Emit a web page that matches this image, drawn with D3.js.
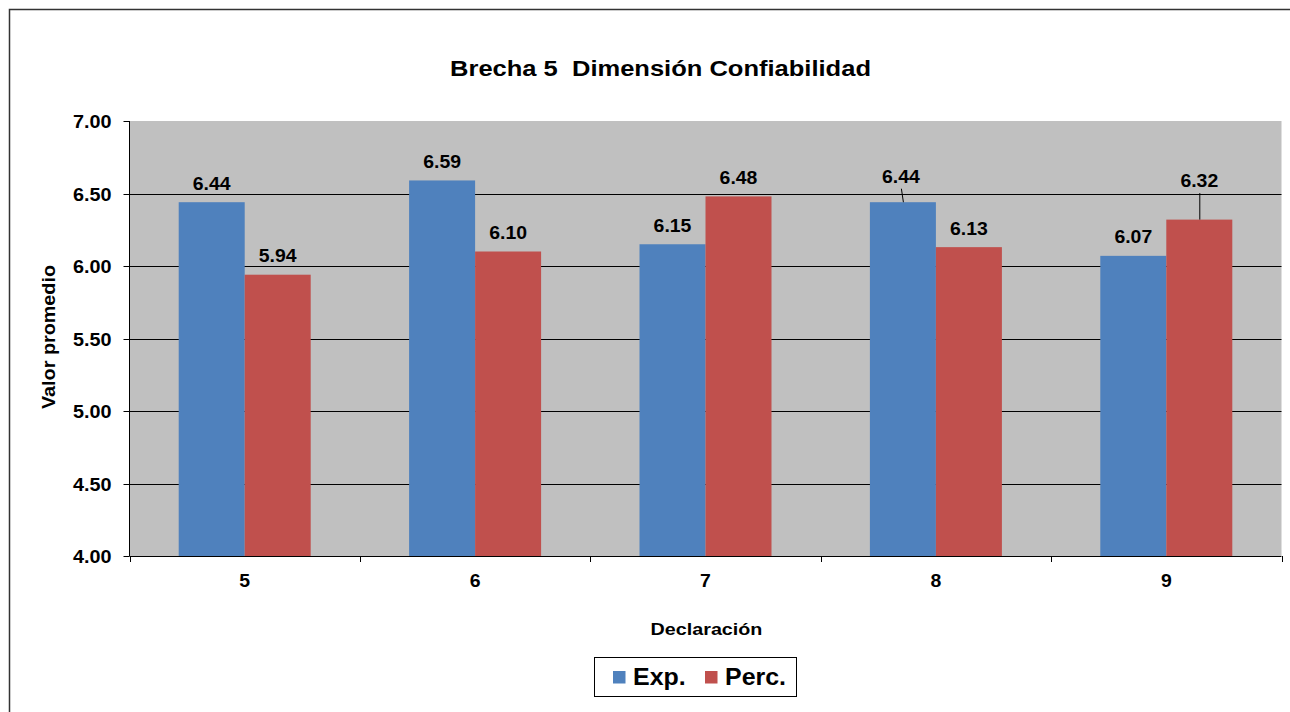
<!DOCTYPE html>
<html>
<head>
<meta charset="utf-8">
<script src="https://cdn.jsdelivr.net/npm/d3@7"></script>
<style>
  html, body { margin: 0; padding: 0; background: #fff; }
  svg { display: block; font-family: "Liberation Sans", Arial, sans-serif; }
</style>
</head>
<body>
<svg id="chart" width="1290" height="712"></svg>
<script>
// Chart data
const categories = ["5", "6", "7", "8", "9"];
const seriesNames = ["Exp.", "Perc."];
const expValues = [6.44, 6.59, 6.15, 6.44, 6.07];
const percValues = [5.94, 6.10, 6.48, 6.13, 6.32];
const yTicks = [4.00, 4.50, 5.00, 5.50, 6.00, 6.50, 7.00];
const colors = ["#4F81BD", "#C0504D"];

const svg = d3.select("#chart");
const fmt = d3.format(".2f");

// Bold text, slightly widened along its baseline
function wideText(g, x, y, str, size, sx, anchor, rotated) {
  return g.append("text")
    .attr("transform", `translate(${x},${y})${rotated ? " rotate(-90)" : ""} scale(${sx},1)`)
    .attr("text-anchor", anchor || "middle")
    .attr("font-size", size).attr("font-weight", "bold").attr("fill", "#000")
    .attr("xml:space", "preserve")
    .text(str);
}

// Outer chart frame (continues past the right and bottom edges)
svg.append("rect")
  .attr("x", 9.5).attr("y", 9.5)
  .attr("width", 1300).attr("height", 720)
  .attr("fill", "#fff").attr("stroke", "#333").attr("stroke-width", 1.5);

const plot = { left: 129.5, right: 1281.5, top: 121, bottom: 556 };

const x = d3.scaleBand().domain(categories).range([plot.left, plot.right]);
const y = d3.scaleLinear().domain([4, 7]).range([plot.bottom, plot.top]);

// Plot background
svg.append("rect")
  .attr("x", plot.left).attr("y", plot.top)
  .attr("width", plot.right - plot.left).attr("height", plot.bottom - plot.top)
  .attr("fill", "#C0C0C0");

// Horizontal gridlines
svg.append("g").selectAll("line")
  .data(yTicks.filter(v => v > 4 && v < 7))
  .join("line")
  .attr("x1", plot.left).attr("x2", plot.right)
  .attr("y1", d => Math.round(y(d)) + 0.5).attr("y2", d => Math.round(y(d)) + 0.5)
  .attr("stroke", "#000").attr("stroke-width", 1);

// Bars
const barW = 66;
const groupOffset = (x.bandwidth() - 2 * barW) / 2;
const bars = [];
categories.forEach((c, i) => {
  bars.push({ cat: c, s: 0, v: expValues[i] });
  bars.push({ cat: c, s: 1, v: percValues[i] });
});
const barX = d => x(d.cat) + groupOffset + d.s * barW;

svg.append("g").selectAll("rect")
  .data(bars)
  .join("rect")
  .attr("x", barX)
  .attr("y", d => y(d.v))
  .attr("width", barW)
  .attr("height", d => y(4) - y(d.v))
  .attr("fill", d => colors[d.s]);

// Y axis
const gy = svg.append("g");
gy.append("line").attr("x1", plot.left).attr("x2", plot.left)
  .attr("y1", plot.top).attr("y2", plot.bottom).attr("stroke", "#000");
yTicks.forEach(t => {
  const ty = Math.round(y(t)) + 0.5;
  gy.append("line").attr("x1", plot.left - 6).attr("x2", plot.left)
    .attr("y1", ty).attr("y2", ty).attr("stroke", "#000");
  wideText(gy, 111.5, y(t) + 7, fmt(t), 18, 1.1, "end");
});

// X axis: tick marks at category boundaries
const gx = svg.append("g");
gx.append("line").attr("x1", plot.left).attr("x2", plot.right)
  .attr("y1", plot.bottom + 0.5).attr("y2", plot.bottom + 0.5).attr("stroke", "#000");
const bounds = categories.map(c => x(c)).concat([plot.right]);
gx.selectAll("line.tk").data(bounds).join("line").attr("class", "tk")
  .attr("x1", d => Math.round(d) + 0.5).attr("x2", d => Math.round(d) + 0.5)
  .attr("y1", plot.bottom).attr("y2", plot.bottom + 6).attr("stroke", "#000");
categories.forEach(c => wideText(gx, x(c) + x.bandwidth() / 2, 587, c, 18, 1.08, "middle"));

// Data labels (two are lifted and joined to their bar by a leader line)
const labelShift = { "8-0": { dx: -2, dy: -7 }, "9-1": { dx: 0, dy: -20 } };
const lbl = svg.append("g");
bars.forEach(d => {
  const cx = barX(d) + barW / 2;
  const top = y(d.v);
  const sh = labelShift[d.cat + "-" + d.s] || { dx: 0, dy: 0 };
  const ly = top - 12.5 + sh.dy;
  if (sh.dy !== 0) {
    lbl.append("line")
      .attr("x1", cx + sh.dx + 0.5).attr("y1", ly + 6)
      .attr("x2", cx + 0.5).attr("y2", top)
      .attr("stroke", "#000").attr("stroke-width", 1);
  }
  wideText(lbl, cx + sh.dx, ly, fmt(d.v), 18, 1.08, "middle");
});

// Title
wideText(svg, 660.5, 76, "Brecha 5  Dimensión Confiabilidad", 22, 1.16, "middle");

// Axis titles
wideText(svg, 55, 337, "Valor promedio", 18, 1.1, "middle", true);
wideText(svg, 706.5, 635, "Declaración", 17, 1.16, "middle");

// Legend
const lg = svg.append("g");
lg.append("rect").attr("x", 594.5).attr("y", 657.5).attr("width", 202).attr("height", 39)
  .attr("fill", "#fff").attr("stroke", "#000").attr("stroke-width", 1);
const legendX = [613, 705];
seriesNames.forEach((n, i) => {
  lg.append("rect").attr("x", legendX[i]).attr("y", 671).attr("width", 12.5).attr("height", 12.5)
    .attr("fill", colors[i]);
  wideText(lg, legendX[i] + 20, 685, n, 24, 1.04, "start");
});
</script>
</body>
</html>
